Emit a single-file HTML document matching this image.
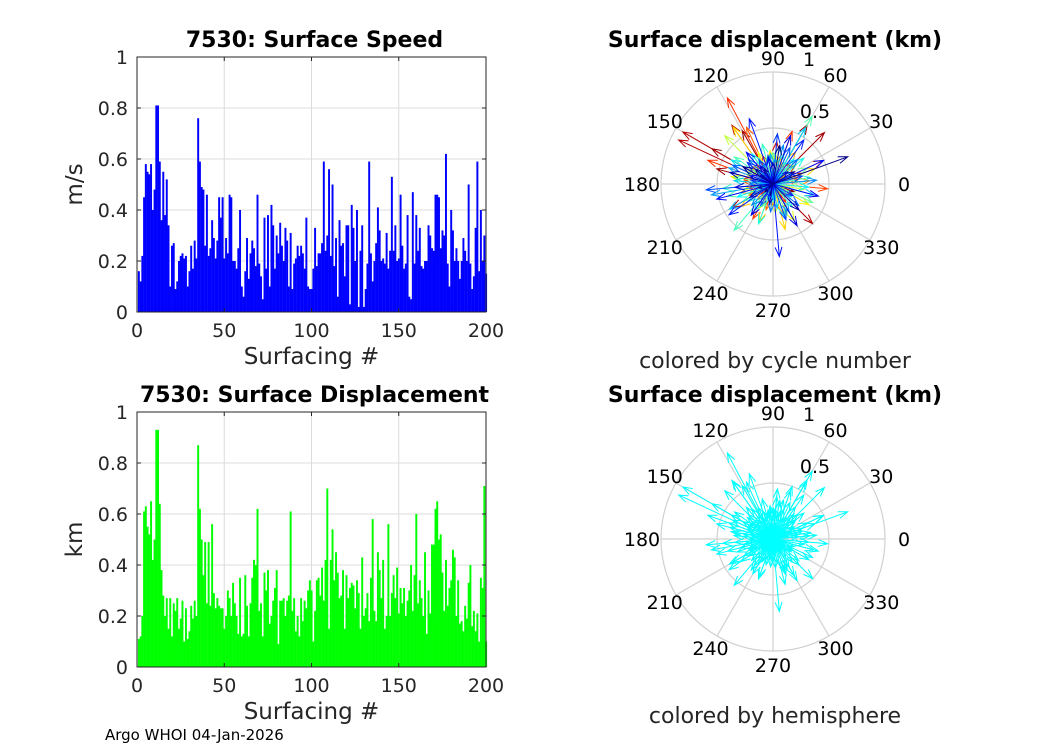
<!DOCTYPE html>
<html><head><meta charset="utf-8"><style>
body{margin:0;background:#fff;}
svg{font-family:"DejaVu Sans","Liberation Sans",sans-serif;}
</style></head><body>
<svg id="fig" width="1050" height="750" viewBox="0 0 1050 750" xmlns="http://www.w3.org/2000/svg"></svg>
<script>
const speedValues=[.16,.12,.22,.45,.58,.55,.54,.58,.40,.48,.81,.81,.59,.36,.55,.38,.52,.34,.10,.26,.27,.09,.12,.20,.22,.23,.21,.22,.10,.16,.26,.17,.28,.21,.76,.59,.49,.48,.26,.46,.22,.25,.36,.29,.21,.28,.45,.37,.45,.21,.29,.23,.46,.45,.20,.20,.17,.25,.40,.10,.06,.16,.29,.13,.23,.28,.25,.18,.46,.19,.14,.05,.37,.17,.38,.10,.42,.34,.17,.30,.23,.35,.26,.20,.33,.28,.10,.31,.09,.19,.21,.26,.22,.26,.23,.17,.37,.10,.09,.09,.17,.33,.18,.23,.23,.27,.59,.24,.30,.56,.22,.50,.18,.29,.06,.36,.26,.27,.14,.34,.34,.03,.42,.33,.20,.40,.02,.24,.34,.02,.09,.19,.59,.23,.12,.20,.27,.41,.32,.20,.21,.19,.31,.17,.24,.53,.24,.34,.20,.21,.46,.26,.17,.19,.38,.06,.05,.47,.19,.38,.24,.33,.18,.17,.20,.20,.34,.30,.25,.24,.46,.46,.45,.25,.32,.30,.62,.19,.10,.40,.32,.20,.25,.20,.13,.20,.29,.24,.20,.50,.19,.09,.14,.33,.59,.16,.40,.20,.30,.15];
const dispValues=[.11,.12,.20,.61,.63,.55,.52,.65,.42,.50,.93,.93,.64,.38,.28,.20,.27,.15,.27,.12,.25,.22,.27,.15,.19,.26,.10,.23,.11,.14,.24,.19,.26,.20,.87,.62,.50,.36,.49,.25,.49,.24,.56,.29,.23,.27,.24,.23,.23,.15,.20,.30,.27,.20,.33,.25,.20,.13,.35,.12,.13,.36,.24,.12,.25,.35,.42,.40,.62,.22,.25,.12,.37,.30,.38,.17,.20,.26,.31,.38,.09,.26,.26,.27,.20,.26,.28,.61,.22,.27,.14,.20,.12,.27,.18,.26,.23,.30,.34,.30,.10,.22,.34,.35,.28,.39,.26,.42,.70,.15,.42,.54,.34,.45,.37,.27,.28,.38,.15,.36,.27,.31,.33,.32,.23,.34,.29,.15,.43,.20,.23,.29,.18,.35,.58,.22,.18,.45,.38,.27,.42,.15,.20,.56,.20,.29,.36,.27,.39,.21,.31,.25,.31,.20,.26,.30,.40,.22,.36,.60,.25,.34,.27,.20,.45,.13,.30,.21,.48,.48,.62,.65,.50,.52,.37,.22,.42,.24,.31,.34,.46,.43,.20,.34,.17,.18,.14,.24,.19,.33,.40,.16,.22,.14,.21,.10,.35,.31,.71,.10];
const dispAngles=[30,200,340,60,150,120,165,45,210,315,155,150,125,85,20,250,95,300,170,265,40,190,110,230,330,75,280,10,135,220,50,185,100,305,118,160,70,240,355,145,25,205,115,290,80,175,255,15,130,320,65,195,90,270,5,140,225,310,55,180,35,250,105,345,160,215,285,20,125,200,75,235,330,95,170,260,45,190,115,300,15,150,240,85,205,275,350,135,60,225,100,180,320,40,265,155,5,210,80,295,130,245,25,170,90,335,120,195,60,275,145,230,10,185,105,310,70,250,165,40,215,290,125,355,85,200,50,270,150,325,100,235,20,175,60,280,140,210,345,95,160,255,30,190,115,300,75,225,5,180,135,265,45,205,100,320,155,240,65,185,120,290,15,170,85,250,140,330,55,215,110,275,25,195,130,160,345,100,150,235,70,300,125,185,40,260,145,210,90,315,165,120,30,195,140,255,80,150,20,225];
const xTicks=[0,50,100,150,200];
const yTicks=[0,0.2,0.4,0.6,0.8,1];
const yTickLabels=['0','0.2','0.4','0.6','0.8','1'];
const angleTicks=[0,30,60,90,120,150,180,210,240,270,300,330];

const NS='http://www.w3.org/2000/svg';
const svg=document.getElementById('fig');
function el(tag,attrs,parent,text){const e=document.createElementNS(NS,tag);for(const k in attrs)e.setAttribute(k,attrs[k]);if(text!==undefined)e.textContent=text;(parent||svg).appendChild(e);return e;}

function barChart(top,vals,color,title,ylabel,nm){
  const L=137,R=486,T=top,B=top+255;
  const g=el('g',{});
  
  
  const xs=v=>L+(v/200)*(R-L), ys=v=>B-v*(B-T);
  xTicks.forEach(t=>{el('line',{x1:xs(t),x2:xs(t),y1:T,y2:B,stroke:'#dcdcdc','stroke-width':1},g);});
  yTicks.forEach(t=>{el('line',{x1:L,x2:R,y1:ys(t),y2:ys(t),stroke:'#dcdcdc','stroke-width':1},g);});
  const bw=(R-L)/200;
  vals.forEach((v,i)=>{const r=el('rect',{x:xs(i+1)-bw/2,y:ys(v),width:bw+0.2,height:B-ys(v),fill:color},g);
    
    });
  el('rect',{x:L,y:T,width:R-L,height:B-T,fill:'none',stroke:'#262626','stroke-width':1},g);
  xTicks.forEach(t=>{el('line',{x1:xs(t),x2:xs(t),y1:B,y2:B-4,stroke:'#262626'},g);el('line',{x1:xs(t),x2:xs(t),y1:T,y2:T+4,stroke:'#262626'},g);
    el('text',{x:xs(t),y:B+25,'text-anchor':'middle','font-size':19,fill:'#262626'},g,String(t));});
  yTicks.forEach((t,i)=>{el('line',{x1:L,x2:L+4,y1:ys(t),y2:ys(t),stroke:'#262626'},g);el('line',{x1:R,x2:R-4,y1:ys(t),y2:ys(t),stroke:'#262626'},g);
    el('text',{x:L-9,y:ys(t)+7,'text-anchor':'end','font-size':19,fill:'#262626'},g,yTickLabels[i]);});
  const tt=el('text',{x:(L+R)/2+3,y:T-10,'text-anchor':'middle','font-size':22,'font-weight':'bold',fill:'#000'},g,title);
  
  const xl=el('text',{x:(L+R)/2,y:B+52,'text-anchor':'middle','font-size':23,fill:'#262626'},g,'Surfacing #');
  
  const yl=el('text',{x:0,y:0,'text-anchor':'middle','font-size':23,fill:'#262626',transform:`translate(${L-55},${(T+B)/2}) rotate(-90)`},g,ylabel);
  
}
barChart(57,speedValues,'#0000ff','7530: Surface Speed','m/s','speed-bar-chart');
barChart(412,dispValues,'#00ff00','7530: Surface Displacement','km','displacement-bar-chart');

function jet(t){const r=Math.min(Math.max(Math.min(4*t-1.5,-4*t+4.5),0),1),g=Math.min(Math.max(Math.min(4*t-0.5,-4*t+3.5),0),1),b=Math.min(Math.max(Math.min(4*t+0.5,-4*t+2.5),0),1);return `rgb(${Math.round(r*255)},${Math.round(g*255)},${Math.round(b*255)})`;}

function polar(cx,cy,colorFn,caption,nm){
  const R=112;
  const g=el('g',{});
  
  
  [0.5,1].forEach(r=>el('circle',{cx,cy,r:r*R,fill:'none',stroke:'#d0d0d0','stroke-width':1.2},g));
  angleTicks.forEach(a=>{const rad=a*Math.PI/180;
    el('line',{x1:cx,y1:cy,x2:cx+R*Math.cos(rad),y2:cy-R*Math.sin(rad),stroke:'#d0d0d0','stroke-width':1.2},g);
    el('text',{x:cx+(R+13)*Math.cos(rad)*1.0+ (Math.abs(Math.cos(rad))>0.9?Math.sign(Math.cos(rad))*6:0),y:cy-(R+14)*Math.sin(rad)+7,'text-anchor':'middle','font-size':19,fill:'#000'},g,String(a));});
  el('text',{x:cx+42,y:cy-66,'text-anchor':'middle','font-size':19,fill:'#000'},g,'0.5');
  el('text',{x:cx+36,y:cy-118,'text-anchor':'middle','font-size':19,fill:'#000'},g,'1');
  dispValues.forEach((v,i)=>{const a=dispAngles[i%dispAngles.length]*Math.PI/180;
    const x2=cx+v*R*Math.cos(a),y2=cy-v*R*Math.sin(a);
    const c=colorFn(i);
    const hl=Math.min(10,v*R*0.3),ha=0.35;
    const p=el('path',{d:`M${cx},${cy}L${x2},${y2}M${x2-hl*Math.cos(a-ha)},${y2+hl*Math.sin(a-ha)}L${x2},${y2}L${x2-hl*Math.cos(a+ha)},${y2+hl*Math.sin(a+ha)}`,stroke:c,fill:'none','stroke-width':1},g);
    
    });
  const tt=el('text',{x:cx+2,y:cy-137,'text-anchor':'middle','font-size':22,'font-weight':'bold',fill:'#000'},g,'Surface displacement (km)');
  
  const cp=el('text',{x:cx+2,y:cy+184,'text-anchor':'middle','font-size':22,fill:'#262626'},g,caption);
  
}
polar(773,184,i=>jet(1-i/(dispValues.length-1)),'colored by cycle number','polar-cycle-plot');
polar(773,539,i=>'#00ffff','colored by hemisphere','polar-hemisphere-plot');
const ft=el('text',{x:105,y:740,'font-size':15,fill:'#000'},svg,'Argo WHOI 04-Jan-2026');


</script>
</body></html>
